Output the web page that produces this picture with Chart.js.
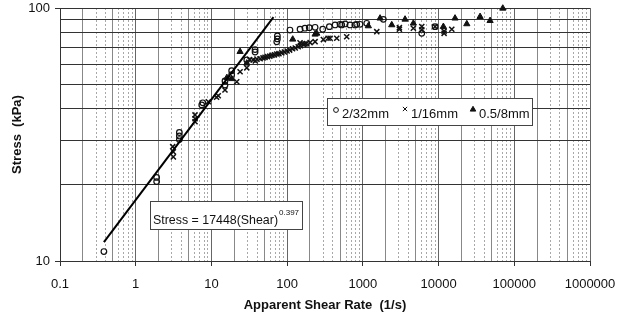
<!DOCTYPE html>
<html>
<head>
<meta charset="utf-8">
<script src="https://cdn.jsdelivr.net/npm/chart.js@4.4.0/dist/chart.umd.min.js"></script>
<style>
    html, body { margin: 0; padding: 0; background: #fff; }
</style>
</head>
<body>
<canvas id="stress-chart" width="617" height="321"></canvas>
<script>
// Stress vs apparent shear rate, three gap sizes (log-log)
const circleShear = [0.38, 1.89, 1.89, 3.77, 3.77, 3.77, 7.45, 7.7, 15.1, 15.1, 18.5, 18.5, 29.3, 37.7, 37.7,
    72.9, 74.3, 74.3, 109, 148, 172, 196, 234, 295, 361, 429, 500, 526, 582, 677, 789, 830, 918, 1125, 1866, 5997, 8990];
const circleStress = [10.9, 20.6, 21.4, 30.2, 31.2, 32.2, 41.4, 42.2, 49.6, 51.5, 54.5, 56.5, 62.3, 67.0, 68.5,
    73.5, 75.5, 77.5, 81.8, 82.4, 83.2, 83.6, 83.9, 82.4, 84.4, 85.7, 86.2, 85.7, 86.5, 85.7, 85.7, 86.2, 86.2, 87.0, 90.2, 79.4, 84.4];

const crossShear = [3.08, 3.14, 3.14, 6.07, 6.07, 6.07, 9.1, 11.7, 12.3, 15.1, 21.6, 23.9, 29.3,
    32, 35.5, 38, 40, 44, 48, 51, 55, 59, 63, 68, 73, 78, 85, 92, 100, 108, 118, 128, 140, 150, 165, 180, 201,
    148, 172, 234, 301, 347, 369, 452, 612, 1527, 3036, 3036, 4645, 5997, 5997, 8990, 11830, 11830, 14940];
const crossStress = [28.3, 25.8, 27.0, 35.5, 36.5, 37.8, 42.6, 44.4, 45.0, 47.4, 51.1, 56.0, 58.0,
    62.5, 62.3, 61.8, 62.8, 63.0, 63.5, 63.8, 64.2, 64.5, 65.0, 65.3, 65.8, 66.0, 66.5, 67.0, 67.6, 68.2, 69.0, 69.5, 70.3, 71.0, 71.8, 72.3, 73.0,
    72.9, 72.1, 73.6, 75.0, 75.9, 75.9, 75.9, 77.0, 80.6, 82.4, 83.6, 83.2, 84.4, 82.0, 84.4, 79.4, 81.0, 82.4];

const triShear = [16.0, 18.5, 23.9, 29.3, 118.5, 234, 246, 1182, 1688, 2408, 3608, 4645, 11570, 16500, 23600, 35340, 47900, 70500];
const triStress = [53.0, 52.5, 67.2, 60.5, 75.2, 78.7, 79.4, 84.9, 91.1, 85.7, 90.2, 87.0, 84.4, 91.1, 86.5, 92.4, 89.1, 99.7];

// power-law fit: Stress (Pa) = 17448 * Shear^0.397
const fitCoef = 17448;
const fitExp = 0.397;
const fitShear = [0.38, 66];

const seriesNames = ['2/32mm', '1/16mm', '0.5/8mm'];
const xTickValues = [0.1, 1, 10, 100, 1000, 10000, 100000, 1000000];
const yTickValues = [10, 100];

const FONT = '"Liberation Sans", Arial, sans-serif';

function pairs(xs, ys) {
    return xs.map((x, i) => ({ x: x, y: ys[i] }));
}

function isDecade(v) {
    const l = Math.log10(v);
    return Math.abs(l - Math.round(l)) < 1e-6;
}

function mantissa(v) {
    return Math.round(v / Math.pow(10, Math.floor(Math.log10(v) + 1e-9)));
}

// 1..9 steps inside every decade between the labelled ends
function logSteps(ends) {
    const out = [];
    for (let i = 0; i < ends.length - 1; i++) {
        for (let m = 1; m < 10; m++) out.push({ value: +(ends[i] * m).toPrecision(6) });
    }
    out.push({ value: ends[ends.length - 1] });
    return out;
}

const fitData = fitShear.map(s => ({ x: s, y: fitCoef * Math.pow(s, fitExp) / 1000 }));

// boxed notes inside the plot: legend and fit equation
const notesPlugin = {
    id: 'notes',
    afterDraw(chart) {
        const ctx = chart.ctx;
        const drawPoint = Chart.helpers.drawPoint;
        ctx.save();

        ctx.fillStyle = '#fff';
        ctx.strokeStyle = '#444';
        ctx.lineWidth = 1;
        ctx.fillRect(327.5, 98.5, 205, 27);
        ctx.strokeRect(327.5, 98.5, 205, 27);
        ctx.fillRect(150.5, 201.5, 152, 28);
        ctx.strokeRect(150.5, 201.5, 152, 28);

        ctx.strokeStyle = '#111';
        ctx.fillStyle = '#fff';
        drawPoint(ctx, { pointStyle: 'circle', radius: 2.4, borderWidth: 1.1 }, 336, 110);
        ctx.fillStyle = '#111';
        drawPoint(ctx, { pointStyle: 'crossRot', radius: 3, borderWidth: 1.1 }, 405, 109);
        drawPoint(ctx, { pointStyle: 'triangle', radius: 3.2, borderWidth: 1 }, 473, 109.5);

        ctx.textBaseline = 'alphabetic';
        ctx.font = '13px ' + FONT;
        ctx.fillText(seriesNames[0], 342, 118);
        ctx.fillText(seriesNames[1], 411, 118);
        ctx.fillText(seriesNames[2], 479, 118);

        ctx.font = '12.4px ' + FONT;
        const eq = 'Stress = 17448(Shear)';
        ctx.fillText(eq, 153, 224);
        const w = ctx.measureText(eq).width;
        ctx.font = '8px ' + FONT;
        ctx.fillText('0.397', 153 + w + 1, 215);

        ctx.restore();
    }
};

new Chart(document.getElementById('stress-chart'), {
    type: 'scatter',
    data: {
        datasets: [{
            label: 'fit',
            type: 'line',
            data: fitData,
            borderColor: '#000',
            borderWidth: 2,
            pointRadius: 0,
            fill: false
        }, {
            label: seriesNames[0],
            data: pairs(circleShear, circleStress),
            pointStyle: 'circle',
            pointRadius: 2.8,
            borderWidth: 1.2,
            borderColor: '#111',
            backgroundColor: 'rgba(255,255,255,0)'
        }, {
            label: seriesNames[1],
            data: pairs(crossShear, crossStress),
            pointStyle: 'crossRot',
            pointRadius: 3.6,
            borderWidth: 1.5,
            borderColor: '#111',
            backgroundColor: '#111'
        }, {
            label: seriesNames[2],
            data: pairs(triShear, triStress),
            pointStyle: 'triangle',
            pointRadius: 3.6,
            borderWidth: 1,
            borderColor: '#111',
            backgroundColor: '#111',
            clip: false
        }]
    },
    options: {
        responsive: false,
        animation: false,
        events: [],
        layout: {
            padding: { left: 0, right: 27, top: 8, bottom: 0 }
        },
        plugins: {
            legend: { display: false },
            tooltip: { enabled: false }
        },
        scales: {
            x: {
                type: 'logarithmic',
                min: 0.1,
                max: 1000000,
                afterBuildTicks(scale) {
                    scale.ticks = logSteps(xTickValues);
                },
                afterFit(scale) {
                    scale.height = 60;
                    scale.paddingLeft = 0;
                    scale.paddingRight = 0;
                },
                grid: {
                    color: ctx => {
                        const v = ctx.tick.value;
                        if (isDecade(v)) return '#666';
                        const m = mantissa(v);
                        return (m === 2 || m === 5) ? '#888' : '#a8a8a8';
                    },
                    lineWidth: 1,
                    tickLength: 5,
                    tickColor: ctx => isDecade(ctx.tick.value) ? '#333' : 'rgba(0,0,0,0)'
                },
                border: {
                    color: '#333',
                    width: 1,
                    dash: ctx => {
                        const v = ctx.tick.value;
                        if (isDecade(v)) return [];
                        const m = mantissa(v);
                        return (m === 2 || m === 5) ? [] : [2, 2];
                    }
                },
                ticks: {
                    autoSkip: false,
                    maxRotation: 0,
                    padding: 11,
                    color: '#111',
                    font: { family: FONT, size: 13 },
                    callback: v => xTickValues.some(t => Math.abs(t - v) < t * 1e-6) ? String(v) : ''
                },
                title: {
                    display: true,
                    text: 'Apparent Shear Rate  (1/s)',
                    color: '#111',
                    font: { family: FONT, size: 13, weight: 'bold' },
                    padding: { top: 0, bottom: 8 }
                }
            },
            y: {
                type: 'logarithmic',
                min: 10,
                max: 100,
                afterBuildTicks(scale) {
                    scale.ticks = logSteps(yTickValues);
                },
                afterFit(scale) {
                    scale.width = 60;
                    scale.paddingTop = 0;
                    scale.paddingBottom = 0;
                },
                grid: {
                    color: '#333',
                    lineWidth: 1,
                    tickLength: 5,
                    tickColor: ctx => isDecade(ctx.tick.value) ? '#333' : 'rgba(0,0,0,0)'
                },
                border: { color: '#333', width: 1 },
                ticks: {
                    autoSkip: false,
                    padding: 5,
                    color: '#111',
                    font: { family: FONT, size: 13 },
                    callback: v => yTickValues.includes(v) ? String(v) : ''
                },
                title: {
                    display: true,
                    text: 'Stress  (kPa)',
                    color: '#111',
                    font: { family: FONT, size: 13, weight: 'bold' },
                    padding: { top: 10, bottom: 0 }
                }
            }
        }
    },
    plugins: [notesPlugin]
});
</script>
</body>
</html>
